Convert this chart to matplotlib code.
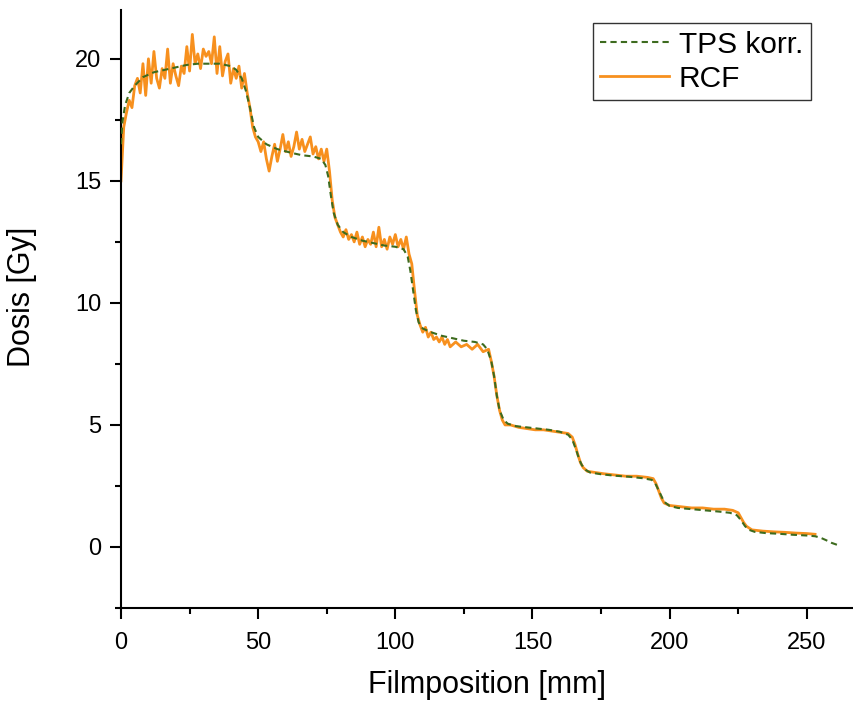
import matplotlib
matplotlib.use("Agg")
import matplotlib.pyplot as plt
from matplotlib.ticker import MultipleLocator

plt.rcParams['font.family'] = ['Liberation Sans', 'DejaVu Sans']

# TPS (korrigiert)
tps_x = [0.0, 0.5, 1.5, 3, 5, 8, 12, 16, 20, 24, 28, 32, 36, 40, 42, 44, 45.5, 47, 48.5, 50,
         53, 57, 62, 66, 70, 73, 74.5, 75.5, 76.5, 77.5, 79, 81, 84, 88, 92, 96, 100, 103,
         104.5, 105.5, 106.5, 107.5, 108.5, 110, 113, 117, 121, 125, 129, 132, 133.5, 135,
         136, 137, 138, 139.5, 141, 144, 148, 152, 156, 160, 163, 164.5, 166, 167, 168,
         169.5, 171, 175, 180, 185, 190, 193.5, 195, 196.5, 198, 200, 203, 208, 213, 218,
         222, 224.5, 226, 227.5, 229, 231, 235, 240, 245, 250, 253, 255, 257, 259, 261.5]
tps_y = [16.5, 17.4, 18.1, 18.6, 18.9, 19.25, 19.45, 19.55, 19.65, 19.75, 19.8, 19.8, 19.8, 19.7,
         19.55, 19.2, 18.7, 18.0, 17.2, 16.8, 16.5, 16.3, 16.15, 16.05, 16.0, 15.9, 15.65, 15.2,
         14.4, 13.7, 13.2, 12.9, 12.7, 12.55, 12.45, 12.35, 12.3, 12.2, 11.9, 11.3, 10.5, 9.7,
         9.2, 8.95, 8.8, 8.65, 8.55, 8.45, 8.4, 8.3, 8.1, 7.6, 7.0, 6.2, 5.6, 5.2, 5.05, 4.95,
         4.9, 4.85, 4.8, 4.72, 4.6, 4.4, 3.95, 3.6, 3.35, 3.15, 3.05, 2.98, 2.92, 2.88, 2.82,
         2.75, 2.55, 2.2, 1.85, 1.68, 1.6, 1.55, 1.5, 1.45, 1.4, 1.3, 1.1, 0.85, 0.7, 0.62,
         0.57, 0.54, 0.5, 0.47, 0.44, 0.38, 0.28, 0.17, 0.07]

# RCF film measurement
rcf_x = list(range(0, 121)) + [122, 124, 126, 128, 130, 132, 134, 135, 136, 137, 138, 139, 140,
         142, 145, 148, 151, 154, 157, 160, 163, 164.5, 165.5, 166.5, 167.5, 168.5, 170, 173,
         176, 180, 184, 188, 192, 194, 195, 196, 197, 198, 200, 204, 208, 212, 216, 220, 223,
         225, 226, 227, 228, 230, 234, 238, 242, 246, 250, 253]
rcf_y = [15.0, 17.2, 17.8, 18.3, 18.0, 18.9, 19.2, 18.6, 19.8, 18.5,
         20.0, 19.0, 20.3, 19.2, 18.8, 19.6, 19.2, 20.4, 19.0, 19.8,
         19.3, 18.9, 19.7, 19.4, 20.5, 19.5, 21.0, 19.8, 20.2, 19.6,
         20.4, 20.1, 20.3, 19.8, 20.9, 19.4, 20.5, 19.3, 19.9, 20.2,
         19.0, 19.6, 19.2, 19.7, 18.8, 19.4, 18.6, 18.0, 17.2, 16.8,
         16.6, 16.2, 16.6, 15.9, 15.4, 16.0, 16.5, 15.8, 16.3, 16.9,
         16.2, 16.6, 16.0, 16.4, 17.0, 16.3, 16.7, 16.2, 16.5, 16.8,
         16.1, 16.4, 15.9, 16.3, 15.8, 16.3, 15.4, 14.2, 13.5, 13.2,
         12.9, 12.7, 13.0, 12.6, 12.8, 12.5, 12.9, 12.4, 12.7, 12.3,
         12.6, 12.4, 12.9, 12.3, 13.1, 12.3, 12.6, 12.2, 12.7, 12.4,
         12.8, 12.3, 12.6, 12.2, 12.7, 12.0, 11.6, 10.5, 9.5, 9.1,
         8.8, 9.0, 8.6, 8.8, 8.5, 8.6, 8.4, 8.6, 8.3, 8.5,
         8.2,
         8.4, 8.2, 8.3, 8.1, 8.3, 8.0, 8.1, 7.6, 7.0, 6.2, 5.6, 5.2, 5.0,
         5.0, 4.9, 4.85, 4.8, 4.8, 4.75, 4.7, 4.65, 4.5, 4.2, 3.8, 3.45, 3.25, 3.1, 3.05,
         3.0, 2.95, 2.9, 2.9, 2.85, 2.8, 2.6, 2.3, 2.0, 1.8, 1.7, 1.65, 1.6, 1.6, 1.55, 1.55, 1.5,
         1.4, 1.2, 1.0, 0.85, 0.7, 0.65, 0.62, 0.6, 0.57, 0.55, 0.52]

fig = plt.figure(figsize=(8.54, 7.02), dpi=100)
ax = fig.add_axes([121 / 854, 94 / 702, 733 / 854, 598 / 702])

ax.plot(tps_x, tps_y, color='#3d6b1e', lw=1.5, ls=(0, (3, 2)), label='TPS korr.', zorder=3)
ax.plot(rcf_x, rcf_y, color='#f7901e', lw=2.0, label='RCF', zorder=2)

ax.set_xlim(0, 267.2)
ax.set_ylim(-2.5, 22)
ax.xaxis.set_major_locator(MultipleLocator(50))
ax.xaxis.set_minor_locator(MultipleLocator(25))
ax.yaxis.set_major_locator(MultipleLocator(5))
ax.yaxis.set_minor_locator(MultipleLocator(2.5))

for s in ['top', 'right']:
    ax.spines[s].set_visible(False)
for s in ['left', 'bottom']:
    ax.spines[s].set_linewidth(1.5)

ax.tick_params(which='major', direction='out', length=8, width=1.5, labelsize=17, pad=6)
ax.tick_params(axis='x', which='major', pad=9)
ax.tick_params(which='minor', direction='out', length=4.5, width=1.5)

ax.set_xlabel('Filmposition [mm]', fontsize=22, labelpad=12)
ax.set_ylabel('Dosis [Gy]', fontsize=22)
ax.yaxis.set_label_coords(-0.114, 0.52)

leg = ax.legend(loc='upper right', bbox_to_anchor=(0.941, 0.978), fontsize=21.5,
                fancybox=False, framealpha=1, edgecolor='#333333', handlelength=2.3,
                handletextpad=0.33, labelspacing=0.2, borderpad=0.25, borderaxespad=0)
leg.get_frame().set_linewidth(1.0)

fig.savefig('out.png', dpi=100)
